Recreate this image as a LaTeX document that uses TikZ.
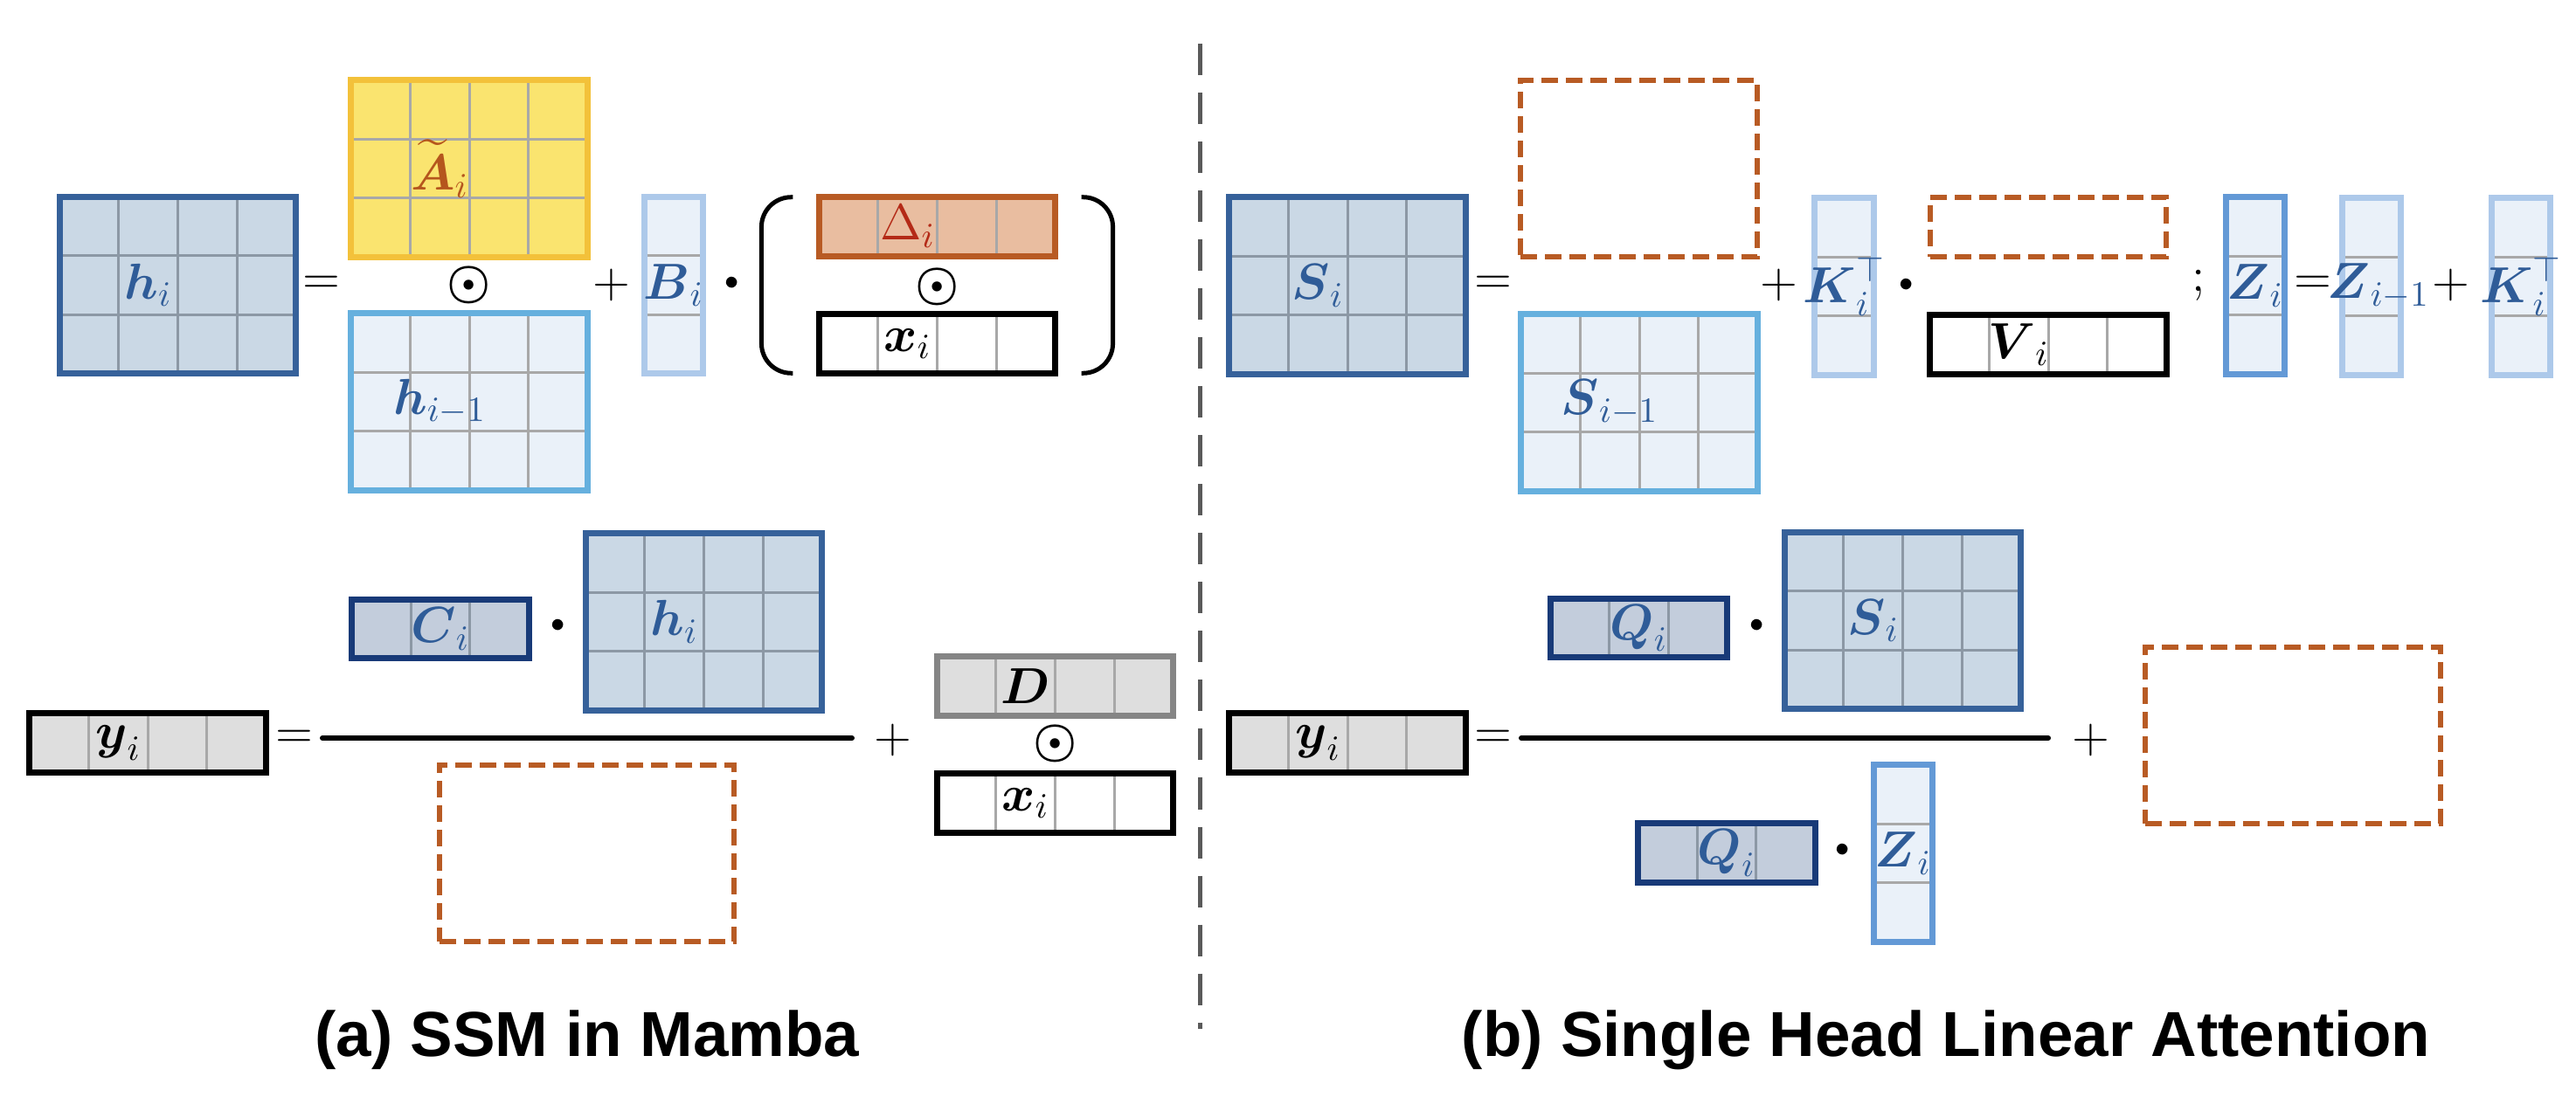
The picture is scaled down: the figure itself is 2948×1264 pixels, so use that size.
\RequirePackage{fix-cm}
\documentclass[tikz,border=0pt]{standalone}
\usepackage{amsmath}
\usepackage{fontspec}
\newfontfamily\headfont{Liberation Sans}
\usetikzlibrary{positioning,calc}

\definecolor{hblue}{HTML}{36619A}
\definecolor{hfill}{HTML}{CAD8E5}
\definecolor{labblue}{HTML}{2F5C98}
\definecolor{gold}{HTML}{F3C13A}
\definecolor{goldfill}{HTML}{FAE46F}
\definecolor{arust}{HTML}{B5561D}
\definecolor{skyblue}{HTML}{66B0DE}
\definecolor{paleblue}{HTML}{ADC9EA}
\definecolor{icefill}{HTML}{EAF1F9}
\definecolor{rust}{HTML}{B85B24}
\definecolor{rustfill}{HTML}{E9BDA0}
\definecolor{deltared}{HTML}{B42A17}
\definecolor{navy}{HTML}{183A78}
\definecolor{navyfill}{HTML}{C3CDDC}
\definecolor{midblue}{HTML}{6399D6}
\definecolor{greyfill}{HTML}{DEDEDE}
\definecolor{dgrey}{HTML}{858585}
\definecolor{gridblue}{HTML}{8C98A5}
\definecolor{gridgrey}{HTML}{A8A8A8}
\definecolor{divgrey}{HTML}{5A5A5A}

% block with cells: style, name, centre, cols, rows, grid colour, label column, label
\newcommand{\blockmat}[8]{%
  \node[#1, minimum width=#4*0.675cm, minimum height=#5*0.675cm] (#2) at (#3) {};
  \ifnum#4>1\relax\foreach \k in {2,...,#4}{\draw[gridline,#6] ($(#2.north west)!{(\k-1)/#4}!(#2.north east)$) -- ($(#2.south west)!{(\k-1)/#4}!(#2.south east)$);}\fi
  \ifnum#5>1\relax\foreach \k in {2,...,#5}{\draw[gridline,#6] ($(#2.north west)!{(\k-1)/#5}!(#2.south west)$) -- ($(#2.north east)!{(\k-1)/#5}!(#2.south east)$);}\fi
  \node[lab] (#2-l) at ($(#2.north west)+({(#7-0.5)*0.675cm},{-#5*0.3375cm})$) {#8};
}

\begin{document}
\begin{tikzpicture}[
  x=0.01cm, y=-0.01cm,
  box/.style={rectangle, inner sep=0pt, outer sep=0pt, line width=0.07cm},
  hbox/.style={box, draw=hblue, fill=hfill},
  abox/.style={box, draw=gold, fill=goldfill},
  prevbox/.style={box, draw=skyblue, fill=icefill},
  vecbox/.style={box, draw=paleblue, fill=icefill},
  dbox/.style={box, draw=rust, fill=rustfill},
  xbox/.style={box, draw=black, fill=white},
  cbox/.style={box, draw=navy, fill=navyfill},
  gbox/.style={box, draw=dgrey, fill=greyfill},
  ybox/.style={box, draw=black, fill=greyfill},
  zbox/.style={box, draw=midblue, fill=icefill},
  slot/.style={rectangle, inner sep=0pt, outer sep=0pt, draw=rust, line width=0.06cm, dash pattern=on 0.19cm off 0.09cm},
  gridline/.style={line width=0.03cm, shorten >=0.035cm, shorten <=0.035cm},
  lab/.style={inner sep=0pt, text=labblue, font=\fontsize{16.5}{19}\selectfont},
  op/.style={inner sep=0pt, font=\fontsize{16}{19}\selectfont},
  dotop/.style={inner sep=0pt, font=\fontsize{9}{10}\selectfont},
  fracline/.style={line width=0.06cm, line cap=round},
  paren/.style={line width=0.05cm, rounded corners=0.34cm},
  divider/.style={divgrey, line width=0.05cm, dash pattern=on 0.36cm off 0.2cm},
  title/.style={anchor=base, inner sep=0pt, font=\headfont\bfseries\fontsize{20.7}{24}\selectfont},
]
  \useasboundingbox (0,0) rectangle (2948,1264);

  % (a) state update
  \blockmat{hbox}{hi}{203.5,326.5}{4}{3}{gridblue}{2}{$\boldsymbol{h}_i$}
  \node[op] (eqa) at (368,326.5) {$=$};
  \blockmat{abox}{At}{537,193}{4}{3}{gridgrey}{2}{\color{arust}$\widetilde{\boldsymbol{A}}_i$}
  \node[op] (oda) at (537,326.5) {$\boldsymbol{\odot}$};
  \blockmat{prevbox}{hprev}{537,460}{4}{3}{gridgrey}{2}{$\boldsymbol{h}_{i-1}$}
  \node[op] (pla) at (700,326.5) {$+$};
  \blockmat{vecbox}{Bi}{771,326.5}{1}{3}{gridgrey}{1}{$\boldsymbol{B}_i$}
  \node[dotop] (dta) at (838,324) {$\bullet$};
  \blockmat{dbox}{dl}{1072.5,259.5}{4}{1}{gridgrey}{2}{\color{deltared}$\Delta_i$}
  \node[op] (odb) at (1072.5,328) {$\boldsymbol{\odot}$};
  \blockmat{xbox}{xi}{1072.5,393.5}{4}{1}{gridgrey}{2}{\color{black}$\boldsymbol{x}_i$}
  \draw[paren] ($(dl.north west)+(-30,0)$) -- ($(dl.north west)+(-66,0)$) -- ($(xi.south west)+(-66,0)$) -- ($(xi.south west)+(-30,0)$);
  \draw[paren] ($(dl.north east)+(30,0)$) -- ($(dl.north east)+(66,0)$) -- ($(xi.south east)+(66,0)$) -- ($(xi.south east)+(30,0)$);

  % (a) output
  \blockmat{ybox}{yi}{169,850.5}{4}{1}{gridgrey}{2}{\color{black}$\boldsymbol{y}_i$}
  \node[op] (eqb) at (337,846) {$=$};
  \coordinate (bara) at (369,845);
  \coordinate (barb) at (975,845);
  \draw[fracline] (bara) -- (barb);
  \blockmat{cbox}{Ci}{504,720}{3}{1}{gridblue}{2}{$\boldsymbol{C}_i$}
  \node[dotop] (dtb) at (639,716) {$\bullet$};
  \blockmat{hbox}{hs}{805.5,712}{4}{3}{gridblue}{2}{$\boldsymbol{h}_i$}
  \node[slot, minimum width=5*0.675cm, minimum height=3*0.675cm] (norma) at (671.5,977) {};
  \node[op] (plb) at (1022,847) {$+$};
  \blockmat{gbox}{Dm}{1207.5,785.5}{4}{1}{gridgrey}{2}{\color{black}$\boldsymbol{D}$}
  \node[op] (odc) at (1207.5,851) {$\boldsymbol{\odot}$};
  \blockmat{xbox}{xs}{1207.5,919.5}{4}{1}{gridgrey}{2}{\color{black}$\boldsymbol{x}_i$}

  % divider
  \coordinate (divtop) at (1373,50);
  \coordinate (divbot) at (1373,1178);
  \draw[divider] (divtop) -- (divbot);

  % (b) state update
  \blockmat{hbox}{Si}{1542,327}{4}{3}{gridblue}{2}{$\boldsymbol{S}_i$}
  \node[op] (eqc) at (1709,326.5) {$=$};
  \node[slot, minimum width=4*0.675cm, minimum height=3*0.675cm] (decs) at (1875.5,193) {};
  \blockmat{prevbox}{Sprev}{1876,461}{4}{3}{gridgrey}{2}{$\boldsymbol{S}_{i-1}$}
  \node[op] (plc) at (2036,326.5) {$+$};
  \blockmat{vecbox}{Ki}{2110.5,328}{1}{3}{gridgrey}{1}{$\boldsymbol{K}_i^{\top}$}
  \node[dotop] (dtc) at (2182,326) {$\bullet$};
  \node[slot, minimum width=4*0.675cm, minimum height=0.675cm] (decv) at (2344,260) {};
  \blockmat{xbox}{Vi}{2344,394.5}{4}{1}{gridgrey}{2}{\color{black}$\boldsymbol{V}_i$}
  \node[op] (semi) at (2516,326.5) {$;$};
  \blockmat{zbox}{Zi}{2581,327}{1}{3}{gridgrey}{1}{$\boldsymbol{Z}_i$}
  \node[op] (eqd) at (2647,326.5) {$=$};
  \blockmat{vecbox}{Zprev}{2714,328}{1}{3}{gridgrey}{1.12}{$\boldsymbol{Z}_{i-1}$}
  \node[op] (pld) at (2805,326.5) {$+$};
  \blockmat{vecbox}{Kz}{2885,328}{1}{3}{gridgrey}{1}{$\boldsymbol{K}_i^{\top}$}

  % (b) output
  \blockmat{ybox}{yo}{1542,850.5}{4}{1}{gridgrey}{2}{\color{black}$\boldsymbol{y}_i$}
  \node[op] (eqe) at (1709,846) {$=$};
  \coordinate (barc) at (1741,845);
  \coordinate (bard) at (2344,845);
  \draw[fracline] (barc) -- (bard);
  \blockmat{cbox}{Qi}{1875.5,719}{3}{1}{gridblue}{2}{$\boldsymbol{Q}_i$}
  \node[dotop] (dtd) at (2010.5,716) {$\bullet$};
  \blockmat{hbox}{Ss}{2177.5,710.5}{4}{3}{gridblue}{2}{$\boldsymbol{S}_i$}
  \node[op] (ple) at (2393,847) {$+$};
  \node[slot, minimum width=5*0.675cm, minimum height=3*0.675cm] (normb) at (2624,842) {};
  \blockmat{cbox}{Qd}{1976,976.5}{3}{1}{gridblue}{2}{$\boldsymbol{Q}_i$}
  \node[dotop] (dte) at (2109,973) {$\bullet$};
  \blockmat{zbox}{Zd}{2178,977}{1}{3}{gridgrey}{1}{$\boldsymbol{Z}_i$}

  % captions
  \node[title] (capa) at (672,1209) {(a) SSM in Mamba};
  \node[title] (capb) at (2227,1209) {(b) Single Head Linear Attention};
\end{tikzpicture}
\end{document}
